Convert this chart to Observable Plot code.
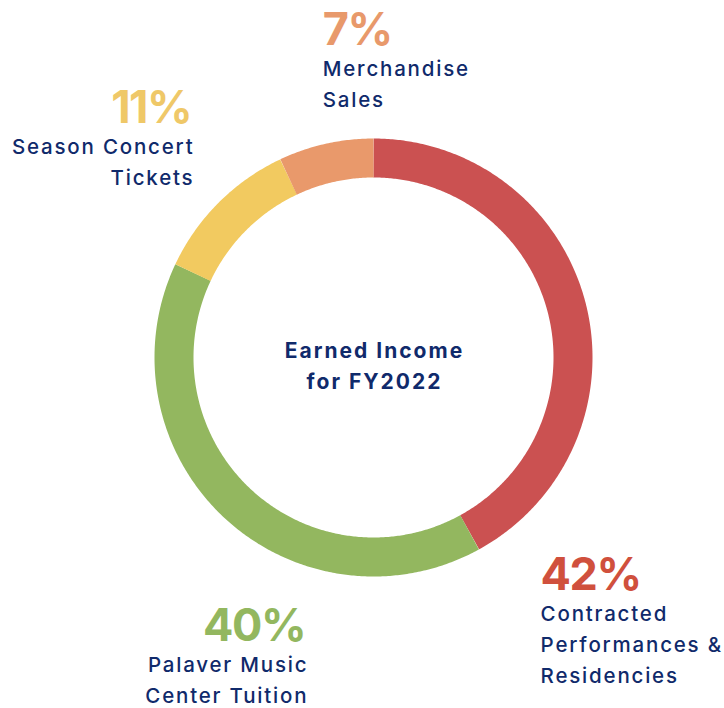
<!DOCTYPE html>
<html><head><meta charset="utf-8">
<script src="https://cdn.jsdelivr.net/npm/d3@7"></script>
<script src="https://cdn.jsdelivr.net/npm/@observablehq/plot@0.6"></script>
<style>body{margin:0;background:#fff}#chart svg{display:block}</style>
</head><body><div id="chart"></div>
<script>
// ---- data ----
const categories = ["Contracted Performances & Residencies", "Palaver Music Center Tuition", "Season Concert Tickets", "Merchandise Sales"];
const shares = [42, 40, 11, 7];
const percentLabels = ["42%", "40%", "11%", "7%"];
const descriptionLabels = ["Contracted\nPerformances &\nResidencies", "Palaver Music\nCenter Tuition", "Season Concert\nTickets", "Merchandise\nSales"];
const centerTitle = ["Earned Income", "for FY2022"];

// ---- styles ----
const sliceColors = ["#cb5151", "#93b75f", "#f2ca60", "#e9996b"];
const percentColors = ["#d0503d", "#93b75f", "#efc868", "#e8996b"];
const navy = "#102a6b";
const FONT = "Inter, 'Open Sans', sans-serif";
const PCT_SIZE = 45, DESC_SIZE = 20.5, CENTER_SIZE = 21;
const PCT_SPACING = "-1.5px", DESC_SPACING = "1.8px", CENTER_SPACING = "2px";

// ---- layout ----
const W = 724, H = 708, CX = 373, CY = 357, R_OUT = 219, R_IN = 180;
const R_MID = (R_OUT + R_IN) / 2, RING = R_OUT - R_IN;
const labelLayout = [
  {anchor: "start", dx: -45, dy: 287},
  {anchor: "end", dx: 83, dy: 124},
  {anchor: "end", dx: -26, dy: -80},
  {anchor: "start", dx: -3, dy: -99}
];
const DESC_LINE = 31;

const data = categories.map((c, i) => ({category: c, value: shares[i], pct: percentLabels[i], desc: descriptionLabels[i]}));
const arcs = d3.pie().sort(null).value(d => d.value)(data);
const polar = (a, r) => ({x: r * Math.sin(a), y: -r * Math.cos(a)});

const ringPoints = arcs.flatMap(a => {
  const n = Math.max(2, Math.ceil((a.endAngle - a.startAngle) / (Math.PI / 360)));
  return d3.range(n + 1).map(k => {
    const t = a.startAngle + (a.endAngle - a.startAngle) * k / n;
    return {category: a.data.category, ...polar(t, R_MID)};
  });
});

const labelMarks = arcs.flatMap((a, i) => {
  const mid = (a.startAngle + a.endAngle) / 2;
  const p = [{...polar(mid, R_OUT), pct: a.data.pct, desc: a.data.desc}];
  const L = labelLayout[i];
  const nLines = a.data.desc.split("\n").length;
  const endFix = L.anchor === "end" ? 1.8 : 0; // compensate trailing letter-spacing
  return [
    Plot.text(p, {x: "x", y: "y", text: "pct", textAnchor: L.anchor, lineAnchor: "bottom",
      dx: L.dx - (L.anchor === "end" ? 1.5 : 0), dy: L.dy, fill: percentColors[i], fontSize: PCT_SIZE, fontWeight: 700, fontFamily: FONT}),
    Plot.text(p, {x: "x", y: "y", text: "desc", textAnchor: L.anchor, lineAnchor: "bottom",
      lineHeight: DESC_LINE / DESC_SIZE, dx: L.dx + endFix, dy: L.dy + DESC_LINE * nLines,
      fill: navy, fontSize: DESC_SIZE, fontWeight: 500, fontFamily: FONT})
  ];
});

const chart = Plot.plot({
  width: W, height: H, margin: 0,
  x: {domain: [-CX, W - CX], range: [0, W], axis: null},
  y: {domain: [-CY, H - CY], range: [0, H], axis: null},
  color: {domain: categories, range: sliceColors},
  style: {background: "#fff"},
  marks: [
    Plot.line(ringPoints, {x: "x", y: "y", z: "category", stroke: "category",
      strokeWidth: RING, strokeLinecap: "butt", strokeLinejoin: "round", curve: "linear"}),
    Plot.text([{x: 0, y: 0}], {x: "x", y: "y", text: () => centerTitle.join("\n"), lineAnchor: "bottom",
      lineHeight: DESC_LINE / CENTER_SIZE, dx: 1, dy: 31, fontSize: CENTER_SIZE, fontWeight: 700, fill: navy, fontFamily: FONT}),
    ...labelMarks
  ]
});
// letter spacing to approximate the wide geometric typeface
chart.querySelectorAll('g[aria-label="text"]').forEach(g => {
  const fs = +g.getAttribute("font-size");
  const sp = fs === PCT_SIZE ? PCT_SPACING : fs === DESC_SIZE ? DESC_SPACING : CENTER_SPACING;
  g.setAttribute("letter-spacing", sp);
});
document.getElementById("chart").appendChild(chart);
</script>
</body></html>
